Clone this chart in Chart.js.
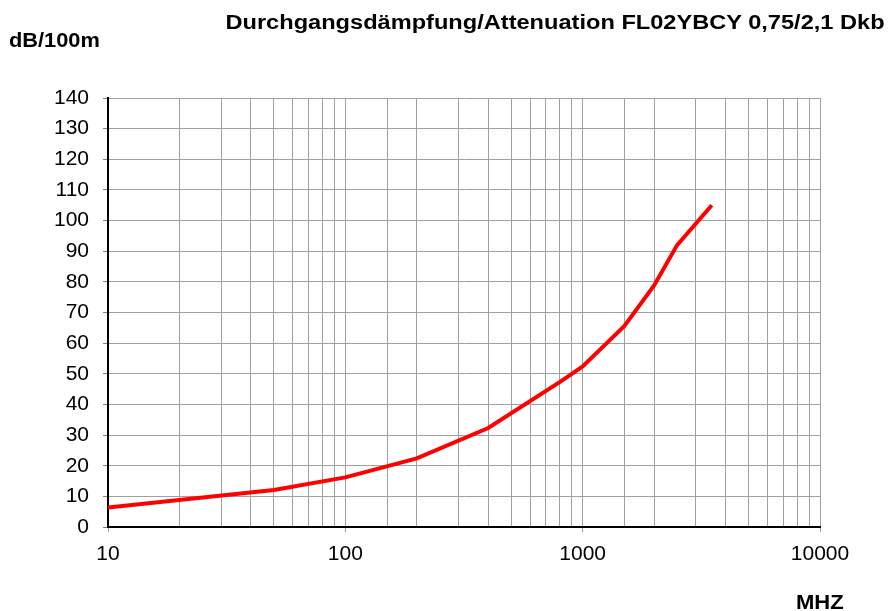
<!DOCTYPE html>
<html>
<head>
<meta charset="utf-8">
<script src="https://cdn.jsdelivr.net/npm/chart.js@4/dist/chart.umd.min.js"></script>
<style>
  html, body { margin: 0; padding: 0; background: #fff; }
  #wrap { position: relative; width: 891px; height: 611px; font-family: "Liberation Sans", Arial, sans-serif; }
  #attChart { position: absolute; left: 0; top: 0; }
  .lbl { position: absolute; font-weight: bold; color: #000; white-space: nowrap; line-height: 23px; }
  #title { right: 6px; top: 11px; font-size: 20px; transform: scaleX(1.18); transform-origin: right top; }
  #yUnit { left: 9px; top: 29px; font-size: 20px; transform: scaleX(1.09); transform-origin: left top; }
  #xUnit { left: 796px; top: 590px; font-size: 21px; transform: scaleX(1.05); transform-origin: left top; }
</style>
</head>
<body>
<div id="wrap">
  <canvas id="attChart" width="891" height="611"></canvas>
  <div class="lbl" id="title">Durchgangsdämpfung/Attenuation FL02YBCY 0,75/2,1 Dkb</div>
  <div class="lbl" id="yUnit">dB/100m</div>
  <div class="lbl" id="xUnit">MHZ</div>
</div>
<script>
const frequencies = [10, 50, 100, 200, 400, 800, 1000, 1500, 2000, 2500, 3500];
const attenuation = [6.4, 12.1, 16.2, 22.4, 32.3, 47.3, 52.4, 65.6, 78.8, 92, 105];
const xTickLabels = [10, 100, 1000, 10000];

const chartCanvas = document.getElementById("attChart");

function isMajor(value) {
  return xTickLabels.includes(value);
}

new Chart(chartCanvas, {
  type: "line",
  data: {
    datasets: [
      {
        label: "FL02YBCY",
        data: frequencies.map((f, i) => ({ x: f, y: attenuation[i] })),
        borderColor: "#ff0000",
        borderWidth: 4,
        pointRadius: 0,
        tension: 0,
        fill: false
      }
    ]
  },
  options: {
    responsive: false,
    animation: false,
    layout: {
      padding: { left: 0, top: 98, right: 71, bottom: 0 }
    },
    plugins: {
      legend: { display: false },
      tooltip: { enabled: false }
    },
    scales: {
      x: {
        type: "logarithmic",
        min: 10,
        max: 10000,
        afterFit(scale) {
          scale.height = 84;
        },
        border: { color: "#000", width: 2 },
        grid: {
          color: "#a0a0a0",
          lineWidth: 1,
          tickLength: 5,
          tickColor(ctx) {
            return ctx.tick && isMajor(ctx.tick.value) ? "#a0a0a0" : "rgba(0,0,0,0)";
          }
        },
        ticks: {
          autoSkip: false,
          maxRotation: 0,
          padding: 10,
          color: "#000",
          font: { family: "Liberation Sans", size: 21 },
          callback(value) {
            return isMajor(value) ? String(value) : "";
          }
        }
      },
      y: {
        min: 0,
        max: 140,
        afterFit(scale) {
          scale.width = 108;
        },
        border: { color: "#000", width: 2 },
        grid: {
          color: "#a0a0a0",
          lineWidth: 1,
          tickLength: 5,
          tickColor: "#808080"
        },
        ticks: {
          stepSize: 10,
          padding: 14,
          color: "#000",
          font: { family: "Liberation Sans", size: 21 }
        }
      }
    }
  }
});
</script>
</body>
</html>
